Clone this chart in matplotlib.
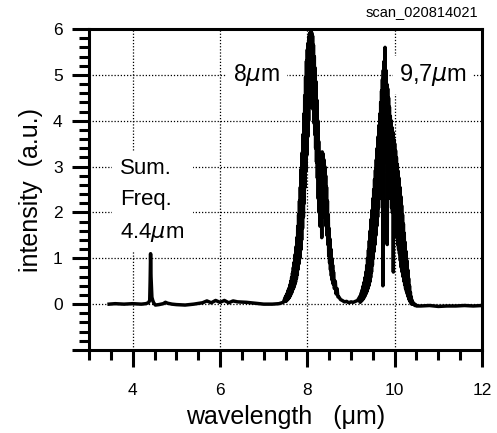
import matplotlib.pyplot as plt
from matplotlib.ticker import MultipleLocator, FuncFormatter

plt.rcParams['font.family'] = ['Liberation Sans', 'DejaVu Sans']
plt.rcParams['mathtext.fontset'] = 'dejavusans'

# baseline + sum frequency spike (4.4 um)
base_x = [3.46, 3.6, 3.8, 4.0, 4.2, 4.3, 4.36, 4.39, 4.40, 4.41, 4.42, 4.43,
          4.44, 4.46, 4.48, 4.52, 4.6, 4.7, 4.75, 4.8, 4.9, 5.0, 5.2, 5.4,
          5.6, 5.7, 5.8, 5.9, 6.0, 6.1, 6.2, 6.3, 6.4, 6.6, 6.8, 7.0, 7.2,
          7.35, 7.45]
base_y = [0.00, 0.01, 0.00, 0.01, 0.00, 0.01, 0.03, 0.08, 0.50, 1.10, 0.60, 0.35,
          0.15, 0.08, 0.03, -0.02, -0.01, 0.01, 0.04, 0.02, 0.00, -0.01, -0.02, 0.00,
          0.03, 0.07, 0.03, 0.08, 0.04, 0.08, 0.03, 0.07, 0.05, 0.04, 0.02, 0.00, 0.00,
          0.01, 0.04]

# 8 um peak (noisy, read at 0.01 steps)
p1_x = [7.50, 7.51, 7.52, 7.53, 7.54, 7.55, 7.56, 7.57, 7.58, 7.59,
        7.60, 7.61, 7.62, 7.63, 7.64, 7.65, 7.66, 7.67, 7.68, 7.69,
        7.70, 7.71, 7.72, 7.73, 7.74, 7.75, 7.76, 7.77, 7.78, 7.79,
        7.80, 7.81, 7.82, 7.83, 7.84, 7.85, 7.86, 7.87, 7.88, 7.89,
        7.90, 7.91, 7.92, 7.93, 7.94, 7.95, 7.96, 7.97, 7.98, 7.99,
        8.00, 8.01, 8.02, 8.03, 8.04, 8.05, 8.06, 8.07, 8.08, 8.09,
        8.10, 8.11, 8.12, 8.13, 8.14, 8.15, 8.16, 8.17, 8.18, 8.19,
        8.20, 8.21, 8.22, 8.23, 8.24, 8.25, 8.26, 8.27, 8.28, 8.29,
        8.30, 8.31, 8.32, 8.33, 8.34, 8.35, 8.36, 8.37, 8.38, 8.39,
        8.40, 8.41, 8.42, 8.43, 8.44, 8.45, 8.46, 8.47, 8.48, 8.49,
        8.50, 8.51, 8.52, 8.53, 8.54, 8.55, 8.56, 8.57, 8.58, 8.59,
        8.60, 8.62, 8.64, 8.66, 8.68, 8.70]
p1_y = [0.16, 0.06, 0.20, 0.08, 0.24, 0.10, 0.30, 0.12, 0.35, 0.15,
        0.42, 0.18, 0.50, 0.22, 0.58, 0.26, 0.68, 0.32, 0.80, 0.36,
        0.92, 0.42, 1.08, 0.48, 1.25, 0.56, 1.45, 0.64, 1.70, 0.76,
        1.95, 0.88, 2.25, 1.00, 2.55, 1.18, 2.95, 1.40, 3.30, 1.65,
        3.70, 1.90, 4.15, 2.20, 4.55, 2.55, 4.95, 2.90, 5.30, 3.25,
        5.55, 3.65, 5.70, 4.00, 5.85, 4.30, 5.92, 4.60, 5.96, 4.80,
        5.92, 4.60, 5.85, 4.25, 5.65, 3.95, 5.40, 3.70, 5.15, 3.40,
        4.85, 3.10, 4.45, 2.75, 4.00, 2.30, 3.55, 2.00, 3.25, 1.70,
        3.05, 1.90, 3.20, 1.45, 3.32, 2.00, 3.28, 1.90, 3.15, 2.00,
        3.00, 1.90, 2.80, 1.70, 2.55, 1.50, 2.25, 1.30, 1.95, 1.05,
        1.65, 0.90, 1.42, 0.75, 1.20, 0.62, 1.00, 0.52, 0.85, 0.44,
        0.70, 0.34, 0.50, 0.22, 0.34, 0.16]

# trough between the peaks
mid_x = [8.72, 8.76, 8.80, 8.85, 8.90, 8.95, 9.00, 9.05, 9.10, 9.15]
mid_y = [0.16, 0.10, 0.08, 0.05, 0.06, 0.03, 0.05, 0.04, 0.06, 0.08]

# 9.7 um peak
p2_x = [9.20, 9.21, 9.22, 9.23, 9.24, 9.25, 9.26, 9.27, 9.28, 9.29,
        9.30, 9.31, 9.32, 9.33, 9.34, 9.35, 9.36, 9.37, 9.38, 9.39,
        9.40, 9.41, 9.42, 9.43, 9.44, 9.45, 9.46, 9.47, 9.48, 9.49,
        9.50, 9.51, 9.52, 9.53, 9.54, 9.55, 9.56, 9.57, 9.58, 9.59,
        9.60, 9.61, 9.62, 9.63, 9.64, 9.65, 9.66, 9.67, 9.68, 9.69,
        9.70, 9.71, 9.72, 9.73, 9.74, 9.75, 9.76, 9.77, 9.78, 9.79,
        9.80, 9.81, 9.82, 9.83, 9.84, 9.85, 9.86, 9.87, 9.88, 9.89,
        9.90, 9.91, 9.92, 9.93, 9.94, 9.95, 9.96, 9.97, 9.98, 9.99,
        10.00, 10.01, 10.02, 10.03, 10.04, 10.05, 10.06, 10.07, 10.08, 10.09,
        10.10, 10.11, 10.12, 10.13, 10.14, 10.15, 10.16, 10.17, 10.18, 10.19,
        10.20, 10.21, 10.22, 10.23, 10.24, 10.25, 10.26, 10.27, 10.28, 10.29,
        10.30, 10.31, 10.32, 10.33, 10.34, 10.35, 10.36, 10.37, 10.38, 10.39,
        10.40, 10.42, 10.44, 10.46, 10.48, 10.50]
p2_y = [0.16, 0.04, 0.20, 0.06, 0.26, 0.08, 0.32, 0.10, 0.40, 0.13,
        0.48, 0.16, 0.58, 0.20, 0.70, 0.24, 0.84, 0.28, 1.00, 0.34,
        1.18, 0.40, 1.38, 0.48, 1.60, 0.58, 1.85, 0.70, 2.05, 0.85,
        2.30, 1.00, 2.50, 1.15, 2.72, 1.30, 2.92, 1.50, 3.15, 1.70,
        3.40, 1.90, 3.65, 2.10, 3.90, 2.30, 4.15, 2.55, 4.40, 2.80,
        4.65, 2.90, 4.90, 0.40, 5.10, 3.20, 5.30, 3.60, 5.60, 3.40,
        5.10, 3.10, 4.80, 1.30, 4.70, 2.80, 4.50, 2.60, 4.30, 2.40,
        4.10, 2.30, 4.00, 2.10, 3.85, 2.00, 3.75, 0.70, 3.60, 1.80,
        3.50, 1.70, 3.35, 1.60, 3.20, 1.45, 3.05, 1.30, 2.90, 1.20,
        2.75, 1.10, 2.55, 0.95, 2.35, 0.80, 2.15, 0.70, 1.95, 0.60,
        1.75, 0.50, 1.55, 0.42, 1.35, 0.34, 1.15, 0.28, 0.95, 0.22,
        0.75, 0.16, 0.56, 0.10, 0.40, 0.06, 0.26, 0.03, 0.16, 0.00,
        0.08, 0.00, 0.02, -0.03, -0.01, -0.04]

# tail
tail_x = [10.6, 10.8, 11.0, 11.2, 11.4, 11.6, 11.8, 12.0]
tail_y = [-0.04, -0.03, -0.05, -0.04, -0.04, -0.03, -0.04, -0.03]

wavelength = base_x + p1_x + mid_x + p2_x + tail_x
intensity = base_y + p1_y + mid_y + p2_y + tail_y

fig = plt.figure(figsize=(4.97, 4.33), dpi=100)
ax = fig.add_axes([0.1791, 0.1917, 0.7907, 0.7413])

ax.plot(wavelength, intensity, color='black', lw=2.5, zorder=4)

ax.set_xlim(3, 12)
ax.set_ylim(-1, 6)
ax.xaxis.set_major_locator(MultipleLocator(2))
ax.xaxis.set_minor_locator(MultipleLocator(0.5))
ax.yaxis.set_major_locator(MultipleLocator(1))
ax.yaxis.set_minor_locator(MultipleLocator(0.2))
# no label on the bottom (-1) tick
ax.yaxis.set_major_formatter(FuncFormatter(lambda v, p: '' if v < -0.5 else f'{v:.0f}'))

ax.grid(True, which='major', color='black', lw=0.9, ls=(0, (1, 1.5)))
ax.set_axisbelow(True)

for s in ax.spines.values():
    s.set_linewidth(2.2)
ax.tick_params(which='major', direction='out', length=12, width=2.2,
               labelsize=12.5, pad=12)
ax.tick_params(which='minor', direction='out', length=7, width=2.2)
ax.tick_params(axis='y', which='major', pad=7)

ax.set_xlabel('wavelength   (\u03bcm)', fontsize=18, labelpad=5)
ax.set_ylabel('intensity  (a.u.)', fontsize=18, labelpad=7)

ax.text(6.3, 5.0, '8$\\mu$m', fontsize=16.5, va='center', ha='left',
        bbox=dict(facecolor='white', edgecolor='none', pad=5), zorder=3)
ax.text(10.1, 5.0, '9,7$\\mu$m', fontsize=17, va='center', ha='left',
        bbox=dict(facecolor='white', edgecolor='none', pad=4), zorder=3)
ax.text(3.72, 2.25, 'Sum.\nFreq.\n4.4$\\mu$m', fontsize=16, va='center',
        ha='left', linespacing=1.62,
        bbox=dict(facecolor='white', edgecolor='none', pad=6), zorder=3)

fig.text(0.962, 0.955, 'scan_020814021', fontsize=10.5, ha='right',
         va='bottom')

fig.savefig('out.png', dpi=100)
